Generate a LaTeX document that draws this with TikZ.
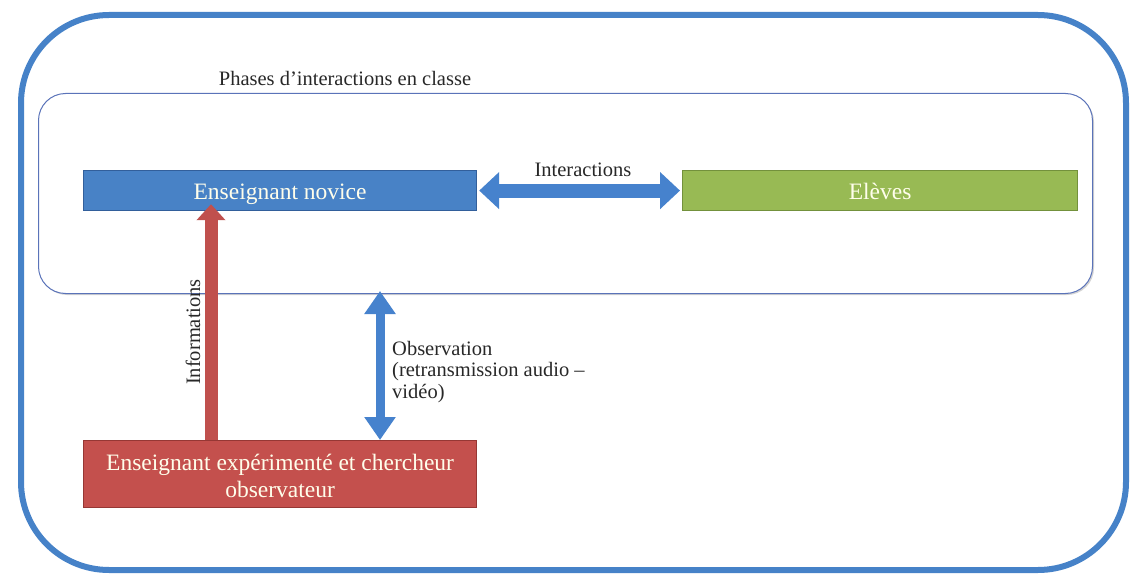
\documentclass[tikz,border=0pt]{standalone}
\usepackage{fontspec}
\setmainfont{Liberation Serif}
\usetikzlibrary{arrows.meta,calc,shadows}
\definecolor{outerblue}{RGB}{70,130,200}
\definecolor{innerblue}{RGB}{90,115,185}
\definecolor{novblue}{RGB}{72,130,198}
\definecolor{novborder}{RGB}{50,95,155}
\definecolor{elvgreen}{RGB}{152,186,84}
\definecolor{elvborder}{RGB}{115,145,60}
\definecolor{redfill}{RGB}{196,80,77}
\definecolor{redborder}{RGB}{150,55,52}
\definecolor{arrowblue}{RGB}{70,130,205}
\definecolor{arrowred}{RGB}{192,80,77}
\definecolor{txtgray}{RGB}{40,40,40}
\tikzset{
  boxtext/.style={font=\fontsize{23.5}{27}\selectfont, text=white!92!yellow},
  labeltext/.style={font=\fontsize{20.5}{21.5}\selectfont, text=txtgray},
  rectbox/.style={rectangle, draw, line width=1.2pt, inner sep=0pt, anchor=north west},
}
\begin{document}
\begin{tikzpicture}[x=1pt,y=-1pt]
\useasboundingbox (0,0) rectangle (1136,575);
% outer frame
\node[rectangle, rounded corners=88pt, draw=outerblue, line width=6pt,
      minimum width=1105pt, minimum height=555pt, anchor=north west] (frame) at (18,12) {};
% inner phase box
\node[rectangle, rounded corners=27pt, draw=innerblue, line width=1pt, fill=white,
      drop shadow={shadow xshift=1.5pt, shadow yshift=-1.5pt, opacity=0.35},
      minimum width=1054pt, minimum height=200pt, anchor=north west] (phase) at (38,93) {};
\node[labeltext, anchor=base] (phaselbl) at (345,86) {Phases d'interactions en classe};
% boxes
\node[rectbox, draw=novborder, fill=novblue, minimum width=393pt, minimum height=40pt] (nov) at (83,170) {};
\node[boxtext, anchor=base] (novtxt) at (nov.center) [yshift=-9pt] {Enseignant novice};
\node[rectbox, draw=elvborder, fill=elvgreen, minimum width=395pt, minimum height=40pt] (elv) at (682,170) {};
\node[boxtext, anchor=base] (elvtxt) at (elv.center) [yshift=-9pt] {Elèves};
\node[rectbox, draw=redborder, fill=redfill, minimum width=393pt, minimum height=67pt] (red) at (83,440) {};
\node[boxtext, align=center, anchor=center] (redtxt) at ([yshift=-1.5pt]red.center) {Enseignant expérimenté et chercheur\\observateur};
% interactions arrow
\draw[arrowblue, line width=14pt,
  {Triangle[width=36pt,length=20pt]}-{Triangle[width=36pt,length=20pt]}]
  ([xshift=2pt]nov.east) -- ([xshift=-2pt]elv.west);
\node[labeltext, anchor=base] (interlbl) at (583,177) {Interactions};
% informations arrow
\coordinate (infx) at (211,0);
\draw[arrowred, line width=13pt, -{Triangle[width=28pt,length=16pt]}]
  (infx |- red.north) -- ([yshift=7pt]infx |- nov.south);
\node[labeltext, rotate=90, anchor=base] (inflbl) at (200,332) {Informations};
% observation arrow
\coordinate (obsx) at (380,0);
\draw[arrowblue, line width=9pt,
  {Triangle[width=30pt,length=23pt]}-{Triangle[width=30pt,length=23pt]}]
  ([yshift=3pt]obsx |- phase.south) -- (obsx |- red.north);
\node[labeltext, align=left, anchor=north west, inner sep=0pt] (obslbl) at (392,341)
  {Observation\\(retransmission audio –\\vidéo)};
\end{tikzpicture}
\end{document}
